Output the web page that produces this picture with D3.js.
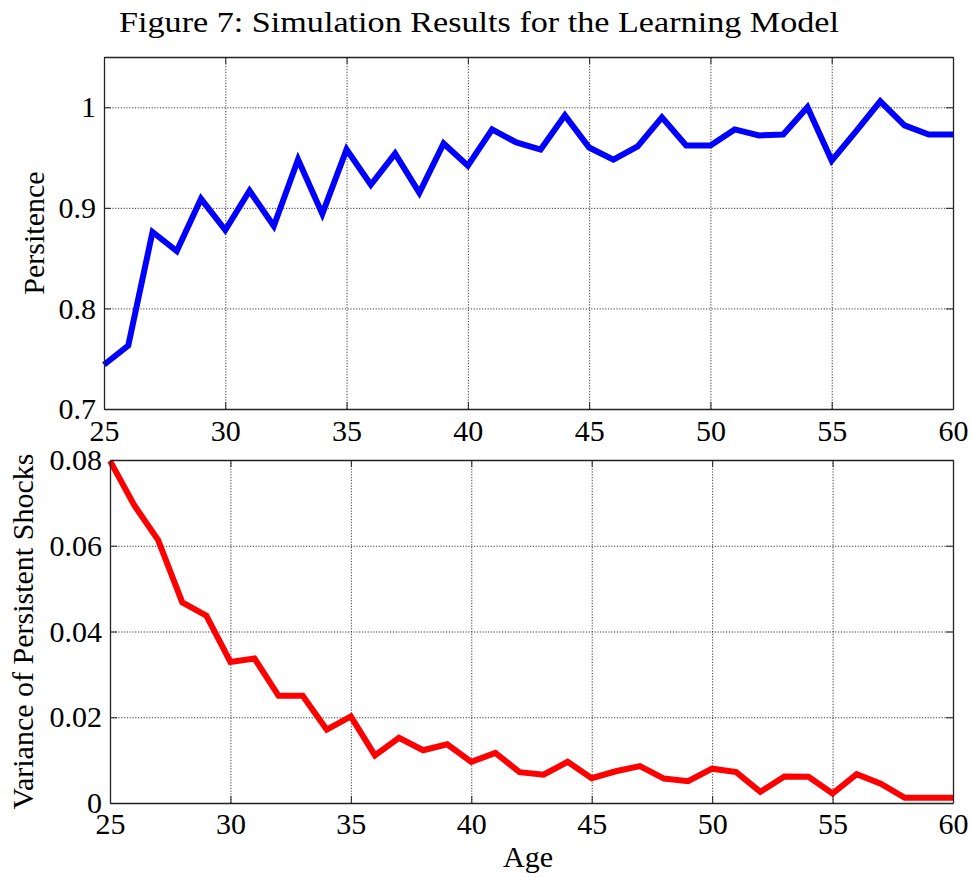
<!DOCTYPE html>
<html>
<head>
<meta charset="utf-8">
<script src="https://cdn.jsdelivr.net/npm/d3@7"></script>
<style>
  body { margin: 0; background: #fff; }
</style>
</head>
<body>
<div id="chart"></div>
<script>
const width = 972, height = 877;
const serif = "'Liberation Serif', 'Times New Roman', Times, serif";

// data
const ages = [25,26,27,28,29,30,31,32,33,34,35,36,37,38,39,40,41,42,
              43,44,45,46,47,48,49,50,51,52,53,54,55,56,57,58,59,60];
const persistence = [0.744,0.763,0.876,0.857,0.909,0.878,0.917,0.882,0.948,0.894,0.958,0.923,
                     0.954,0.915,0.964,0.942,0.978,0.965,0.958,0.992,0.960,0.948,0.961,0.990,
                     0.962,0.962,0.978,0.972,0.973,1.000,0.947,0.976,1.006,0.982,0.973,0.973];
const variance = [0.0798,0.0695,0.0613,0.0468,0.0437,0.0329,0.0337,0.0250,0.0250,0.0171,0.0202,0.0111,
                  0.0152,0.0123,0.0137,0.0096,0.0117,0.0072,0.0066,0.0096,0.0058,0.0074,0.0086,0.0057,
                  0.0051,0.0080,0.0072,0.0026,0.0062,0.0061,0.0022,0.0067,0.0045,0.0012,0.0012,0.0012];
const ageTicks = [25,30,35,40,45,50,55,60];
const persTicks = [0.7,0.8,0.9,1];
const varTicks = [0,0.02,0.04,0.06,0.08];

const svg = d3.select("#chart").append("svg")
    .attr("width", width)
    .attr("height", height);

svg.append("text")
    .attr("x", 479)
    .attr("y", 32)
    .attr("text-anchor", "middle")
    .attr("textLength", 720)
    .attr("lengthAdjust", "spacingAndGlyphs")
    .style("font-family", serif)
    .style("font-size", "29px")
    .text("Figure 7: Simulation Results for the Learning Model");

function panel(cfg) {
  const x = d3.scaleLinear().domain([25, 60]).range([cfg.left, cfg.right]);
  const y = d3.scaleLinear().domain(cfg.yDomain).range([cfg.bottom, cfg.top]);
  const g = svg.append("g");
  const h = cfg.bottom - cfg.top, w = cfg.right - cfg.left;

  // dotted grid
  g.append("g")
    .attr("transform", `translate(0,${cfg.bottom})`)
    .call(d3.axisBottom(x).tickValues(ageTicks).tickSize(-h).tickFormat(""))
    .call(a => a.select(".domain").remove());
  g.append("g")
    .attr("transform", `translate(${cfg.left},0)`)
    .call(d3.axisLeft(y).tickValues(cfg.yTicks).tickSize(-w).tickFormat(""))
    .call(a => a.select(".domain").remove());
  g.selectAll(".tick line")
    .attr("stroke", "#222")
    .attr("stroke-width", 0.9)
    .attr("stroke-dasharray", "1.2,1.6");

  // series
  g.append("path")
    .datum(ages.map((a, i) => [a, cfg.values[i]]))
    .attr("fill", "none")
    .attr("stroke", cfg.color)
    .attr("stroke-width", 6)
    .attr("stroke-linejoin", "miter")
    .attr("d", d3.line().x(d => x(d[0])).y(d => y(d[1])));

  // box axes with inward ticks
  const axes = [
    [d3.axisBottom(x).tickValues(ageTicks).tickFormat(d3.format("d")).tickPadding(cfg.xPad), `translate(0,${cfg.bottom})`],
    [d3.axisTop(x).tickValues(ageTicks).tickFormat(""), `translate(0,${cfg.top})`],
    [d3.axisLeft(y).tickValues(cfg.yTicks).tickFormat(d3.format("")).tickPadding(cfg.yPad), `translate(${cfg.left},0)`],
    [d3.axisRight(y).tickValues(cfg.yTicks).tickFormat(""), `translate(${cfg.right},0)`]
  ];
  axes.forEach(([ax, tr]) => {
    const a = g.append("g")
      .attr("transform", tr)
      .attr("font-family", null)
      .attr("font-size", null)
      .call(ax.tickSizeInner(-7).tickSizeOuter(0));
    a.select(".domain").attr("stroke", "#222").attr("stroke-width", 1.3);
    a.selectAll(".tick line").attr("stroke", "#222").attr("stroke-width", 1);
    a.selectAll("text")
      .attr("fill", "#000")
      .style("font-family", serif)
      .style("font-size", "30px");
  });

  g.append("text")
    .attr("transform", `translate(${cfg.labelX},${(cfg.top + cfg.bottom) / 2}) rotate(-90)`)
    .attr("text-anchor", "middle")
    .attr("dy", "0.35em")
    .style("font-family", serif)
    .style("font-size", "30px")
    .text(cfg.yLabel);
}

panel({
  left: 104, right: 953, top: 57, bottom: 409,
  yDomain: [0.7, 1.05], yTicks: persTicks,
  values: persistence, color: "#0000ff", xPad: 11, yPad: 8,
  yLabel: "Persitence", labelX: 33
});

panel({
  left: 110, right: 953, top: 460, bottom: 803,
  yDomain: [0, 0.08], yTicks: varTicks,
  values: variance, color: "#ff0000", xPad: 10, yPad: 8,
  yLabel: "Variance of Persistent Shocks", labelX: 22
});

svg.append("text")
    .attr("x", 528)
    .attr("y", 867)
    .attr("text-anchor", "middle")
    .style("font-family", serif)
    .style("font-size", "30px")
    .text("Age");
</script>
</body>
</html>
